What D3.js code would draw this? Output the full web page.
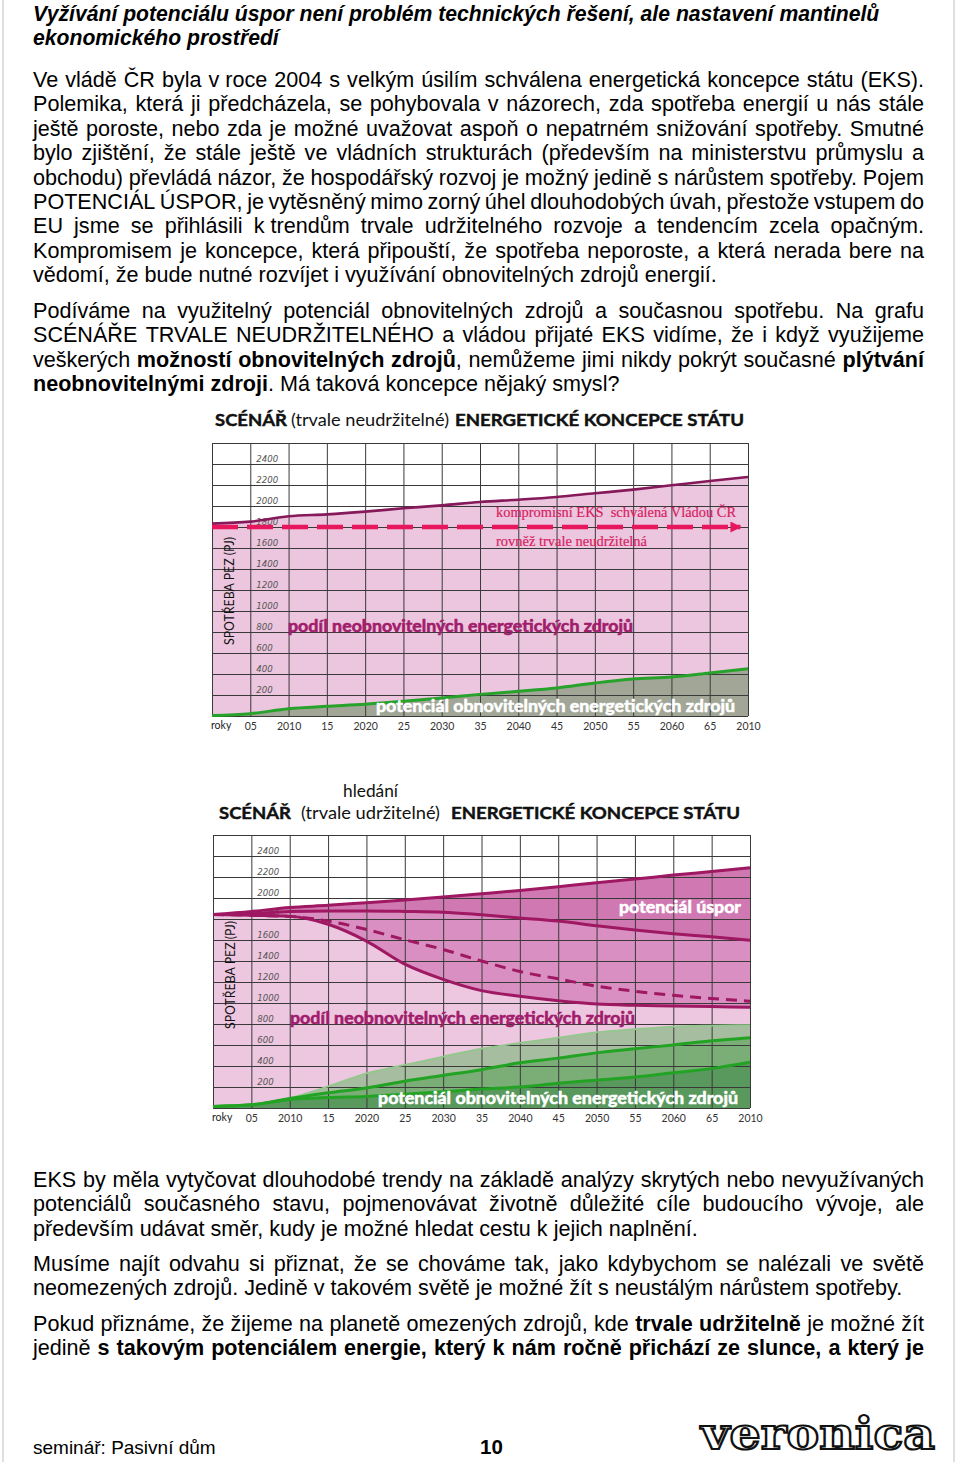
<!DOCTYPE html>
<html><head><meta charset="utf-8">
<script src="https://cdn.jsdelivr.net/npm/d3@7"></script>
<style>
html,body{margin:0;padding:0;background:#fff;}
svg{display:block;}
</style></head><body>
<svg id="page" width="960" height="1462"></svg>
<script>
// ================= DATA =================
const years = [2000,2005,2010,2015,2020,2025,2030,2035,2040,2045,2050,2055,2060,2065,2070];
const yearTickYears = [2005,2010,2015,2020,2025,2030,2035,2040,2045,2050,2055,2060,2065,2070];
const yearTickLabels = ["05","2010","15","2020","25","2030","35","2040","45","2050","55","2060","65","2010"];
const yTickValues = [200,400,600,800,1000,1200,1400,1600,1800,2000,2200,2400];
const yGridValues = [0,200,400,600,800,1000,1200,1400,1600,1800,2000,2200,2400,2600];

// chart 1 – unsustainable scenario
const c1Consumption = [1832,1851,1902,1920,1946,1978,2006,2038,2060,2086,2121,2156,2197,2238,2276];
const c1Renewable   = [5,22,70,92,111,140,171,206,235,267,314,352,371,410,451];
const c1EksYears    = [2000,2069];
const c1EksValues   = [1800,1800];

// chart 2 – sustainable scenario
const c2Consumption = [1843,1872,1910,1930,1955,1980,2009,2040,2072,2108,2145,2180,2218,2252,2288];
const c2Moderate    = [1843,1850,1872,1876,1876,1872,1865,1840,1810,1780,1735,1695,1660,1630,1598];
const c2Dashed      = [1843,1835,1825,1780,1700,1603,1510,1400,1300,1230,1160,1112,1073,1043,1017];
const c2Low         = [1843,1835,1825,1750,1590,1370,1225,1118,1065,1022,990,978,972,966,960];
const c2RenewOuter  = [15,30,95,205,330,410,490,565,620,670,720,750,775,785,790];
const c2RenewUpper  = [15,30,90,145,190,255,310,365,430,475,525,565,600,640,670];
const c2RenewLower  = [15,30,80,100,110,130,155,180,200,235,265,295,335,375,435];

// page text
const headingLines = [
  "Vyžívání potenciálu úspor není problém technických řešení, ale nastavení mantinelů",
  "ekonomického prostředí"
];
const para1 = [
  "Ve vládě ČR byla v\u00a0roce 2004 s velkým úsilím schválena energetická koncepce státu (EKS).",
  "Polemika, která ji předcházela, se pohybovala v názorech, zda spotřeba energií u nás stále",
  "ještě poroste, nebo zda je možné uvažovat aspoň o nepatrném snižování spotřeby. Smutné",
  "bylo zjištění, že stále ještě ve vládních strukturách (především na ministerstvu průmyslu a",
  "obchodu) převládá názor, že hospodářský rozvoj je možný jedině s nárůstem spotřeby. Pojem",
  "POTENCIÁL ÚSPOR, je vytěsněný mimo zorný úhel dlouhodobých úvah, přestože vstupem do",
  "EU jsme se přihlásili k\u00a0trendům trvale udržitelného rozvoje a tendencím zcela opačným.",
  "Kompromisem je koncepce, která připouští, že spotřeba neporoste, a která nerada bere na",
  "vědomí, že bude nutné rozvíjet i využívání obnovitelných zdrojů energií."
];
const para2 = [
  "Podíváme na využitelný potenciál obnovitelných zdrojů a současnou spotřebu. Na grafu",
  "SCÉNÁŘE TRVALE NEUDRŽITELNÉHO a vládou přijaté EKS vidíme, že i když využijeme",
  "veškerých **možností obnovitelných zdrojů**, nemůžeme jimi nikdy pokrýt současné **plýtvání**",
  "**neobnovitelnými zdroji**. Má taková koncepce nějaký smysl?"
];
const para3 = [
  "EKS by měla vytyčovat dlouhodobé trendy na základě analýzy skrytých nebo nevyužívaných",
  "potenciálů současného stavu, pojmenovávat životně důležité cíle budoucího vývoje, ale",
  "především udávat směr, kudy je možné hledat cestu k jejich naplnění."
];
const para4 = [
  "Musíme najít odvahu si přiznat, že se chováme tak, jako kdybychom se nalézali ve světě",
  "neomezených zdrojů. Jedině v takovém světě je možné žít s neustálým nárůstem spotřeby."
];
const para5 = [
  "Pokud přiznáme, že žijeme na planetě omezených zdrojů, kde **trvale udržitelně** je možné žít",
  "jedině **s takovým potenciálem energie, který k nám ročně přichází ze slunce, a který je**"
];

// ================= PAGE TEXT =================
const svg = d3.select("#page");
const BODY = "'Liberation Sans', Arial, sans-serif";

svg.append("line").attr("x1",3).attr("x2",3).attr("y1",0).attr("y2",1462).attr("stroke","#d4d4d4").attr("stroke-width",1.5);
svg.append("line").attr("x1",954).attr("x2",954).attr("y1",0).attr("y2",1462).attr("stroke","#d4d4d4").attr("stroke-width",1.5);

function parseLine(str){
  const words=[]; let cur=[]; let bold=false; let buf='';
  const flush=()=>{ if(buf){cur.push({t:buf,b:bold}); buf='';} };
  for(let i=0;i<str.length;i++){
    if(str[i]==='*'&&str[i+1]==='*'){flush(); bold=!bold; i++; continue;}
    if(str[i]===' '){flush(); if(cur.length){words.push(cur); cur=[];} continue;}
    buf+=str[i];
  }
  flush(); if(cur.length) words.push(cur);
  return words;
}
function wordNodes(str, fs, base, y){
  return parseLine(str).map(w=>{
    const t = svg.append("text").attr("y",y).attr("font-family",BODY).attr("font-size",fs)
      .attr("font-style",base.italic?"italic":"normal").attr("fill","#000")
      .style("white-space","pre");
    w.forEach(s=>t.append("tspan").attr("font-weight",(s.b||base.bold)?"bold":"normal").text(s.t));
    return {t, w:t.node().getComputedTextLength()};
  });
}
function naturalWidth(str, fs, base){
  const n = wordNodes(str, fs, base, -100);
  const w = d3.sum(n,d=>d.w) + (n.length-1)*fs*0.278;
  n.forEach(d=>d.t.remove());
  return w;
}
function layoutLine(str, x, y, width, justify, fs, base){
  const n = wordNodes(str, fs, base, y);
  const total = d3.sum(n,d=>d.w);
  let gap = fs*0.278;
  if(justify && n.length>1) gap = (width-total)/(n.length-1);
  let cx = x;
  n.forEach(d=>{ d.t.attr("x",cx); cx += d.w + gap; });
}
const plain = {bold:false, italic:false};
const fsA = 100*851/naturalWidth(para4[1],100,plain);
const fsB = 100*679/naturalWidth(para3[2],100,plain);
const FS = (fsA+fsB)/2;
const headBase = {bold:true, italic:true};
const FSH = 100*847/naturalWidth(headingLines[0],100,headBase);

const LEFT = 33, WIDTH = 891, STEP = 24.4;
const blocks = [
  {lines:headingLines, y0:21, base:headBase, fs:FSH, justify:false, justifyLast:false},
  {lines:para1, y0:87, base:plain, fs:FS, justify:true, justifyLast:false},
  {lines:para2, y0:318, base:plain, fs:FS, justify:true, justifyLast:false},
  {lines:para3, y0:1187, base:plain, fs:FS, justify:true, justifyLast:false},
  {lines:para4, y0:1271, base:plain, fs:FS, justify:true, justifyLast:false},
  {lines:para5, y0:1331, base:plain, fs:FS, justify:true, justifyLast:true}
];
blocks.forEach(b=>{
  b.lines.forEach((l,i)=>{
    const last = i===b.lines.length-1;
    layoutLine(l, LEFT, b.y0+i*STEP, WIDTH, b.justify && (!last || b.justifyLast), b.fs, b.base);
  });
});

// footer
svg.append("text").attr("x",33).attr("y",1454).attr("font-family",BODY).attr("font-size",19).attr("fill","#000").text("seminář: Pasivní dům");
svg.append("text").attr("x",480).attr("y",1454).attr("font-family",BODY).attr("font-size",20.5).attr("font-weight","bold").attr("fill","#000").text("10");
svg.append("text").attr("x",701).attr("y",1449).attr("font-family","'DejaVu Serif', serif").attr("font-size",45).attr("font-weight","bold")
  .attr("fill","#fff").attr("stroke","#111").attr("stroke-width",2.2).attr("textLength",234).attr("lengthAdjust","spacingAndGlyphs").text("veronica");

// ================= CHARTS =================
const TF = "Lato, 'Open Sans', sans-serif";
const defs = svg.append("defs");
defs.append("marker").attr("id","arrow").attr("viewBox","0 0 10 10").attr("refX",9).attr("refY",5)
  .attr("markerWidth",13).attr("markerHeight",11).attr("markerUnits","userSpaceOnUse").attr("orient","auto")
  .append("path").attr("d","M0,0L10,5L0,10Z").attr("fill","#e8175d");

function fitText(g, str, x, y, len, size, weight, fill, family, thick){
  const t = g.append("text").attr("x",x).attr("y",y).attr("font-family",family||TF).attr("font-size",size)
    .attr("font-weight",weight||"normal").attr("fill",fill||"#000")
    .attr("textLength",len).attr("lengthAdjust","spacingAndGlyphs").style("white-space","pre").text(str);
  if(thick) t.attr("stroke",fill).attr("stroke-width",thick).attr("stroke-linejoin","round");
  return t;
}

function frame(L,R,T,B){
  const x = d3.scaleLinear().domain([2000,2070]).range([L,R]);
  const y = d3.scaleLinear().domain([0,2600]).range([B,T]);
  return {x,y};
}
function drawGrid(g,x,y){
  const [L,R]=x.range(), [B,T]=y.range();
  g.append("g").attr("transform",`translate(${L},0)`)
    .call(d3.axisLeft(y).tickValues(yGridValues).tickSize(-(R-L)).tickFormat(""))
    .call(a=>a.select(".domain").remove())
    .selectAll("line").attr("stroke","#3a3a3a").attr("stroke-width",1);
  g.append("g").attr("transform",`translate(0,${B})`)
    .call(d3.axisBottom(x).tickValues(years).tickSize(-(B-T)).tickFormat(""))
    .call(a=>a.select(".domain").remove())
    .selectAll("line").attr("stroke","#3a3a3a").attr("stroke-width",1);
}
function drawAxesText(g,x,y,title,titleCy){
  const [L,R]=x.range(), [B,T]=y.range();
  const ya = g.append("g").attr("transform",`translate(${x(2005)+6},0)`)
    .call(d3.axisRight(y).tickValues(yTickValues).tickSize(0).tickPadding(0).tickFormat(d=>d));
  ya.select(".domain").remove();
  ya.selectAll("text").attr("dy","-0.3em").attr("font-family","'DejaVu Sans', sans-serif").attr("font-size",8.6)
    .attr("font-style","italic").attr("fill","#555");
  const xa = g.append("g").attr("transform",`translate(0,${B})`)
    .call(d3.axisBottom(x).tickValues(yearTickYears).tickSize(0).tickPadding(7).tickFormat((d,i)=>yearTickLabels[i]));
  xa.select(".domain").remove();
  xa.selectAll("text").attr("font-family",TF).attr("font-size",10.5).attr("fill","#333");
  g.append("text").attr("x",L-1).attr("y",B+13).attr("font-family",TF).attr("font-size",10.5).attr("fill","#222").text("roky");
  g.append("text").attr("transform",`translate(${L+22},${titleCy}) rotate(-90)`).attr("text-anchor","middle")
    .attr("font-family",TF).attr("font-size",13.5).attr("fill","#111")
    .attr("textLength",108).attr("lengthAdjust","spacingAndGlyphs").text(title);
}

// ---------- chart 1 ----------
{
  const g = svg.append("g");
  const {x,y} = frame(212,748,443,716);
  const pts = v => years.map((yr,i)=>[yr,v[i]]);
  const area = d3.area().x(d=>x(d[0])).y0(y(0)).y1(d=>y(d[1])).curve(d3.curveMonotoneX);
  const line = d3.line().x(d=>x(d[0])).y(d=>y(d[1])).curve(d3.curveMonotoneX);

  g.append("path").attr("d",area(pts(c1Consumption))).attr("fill","#ecc5de");
  g.append("path").attr("d",area(pts(c1Renewable))).attr("fill","#a1a697");
  drawGrid(g,x,y);
  drawAxesText(g,x,y,"SPOTŘEBA PEZ (PJ)",591);

  g.append("path").attr("d",line(pts(c1Consumption))).attr("fill","none").attr("stroke","#85195a").attr("stroke-width",2.6);
  g.append("path").attr("d",line(c1EksYears.map((yr,i)=>[yr,c1EksValues[i]]))).attr("fill","none")
    .attr("stroke","#e8175d").attr("stroke-width",4.5).attr("stroke-dasharray","26 9").attr("marker-end","url(#arrow)");
  g.append("path").attr("d",line(pts(c1Renewable))).attr("fill","none").attr("stroke","#27a22a").attr("stroke-width",3);

  fitText(g,"SCÉNÁŘ",215,426,72,17.5,"bold","#111",null,0.45);
  fitText(g,"(trvale neudržitelné)",291,426,158,17,"normal","#111");
  fitText(g,"ENERGETICKÉ KONCEPCE STÁTU",455,426,289,17.5,"bold","#111",null,0.45);

  fitText(g,"kompromisní EKS  schválená Vládou ČR",496,517,240,15,"normal","#d81e63","'Liberation Serif', serif",0.2);
  fitText(g,"rovněž trvale neudržitelná",496,546,151,15,"normal","#d81e63","'Liberation Serif', serif",0.2);
  fitText(g,"podíl neobnovitelných energetických zdrojů",288,632,345,17,"bold","#a11d6c",null,0.6);
  fitText(g,"potenciál obnovitelných energetických zdrojů",376,712,359,17,"bold","#ffffff",null,0.6);
}

// ---------- chart 2 ----------
{
  const g = svg.append("g");
  const {x,y} = frame(213,750,835,1108);
  const pts = v => years.map((yr,i)=>[yr,v[i]]);
  const area = d3.area().x(d=>x(d[0])).y0(y(0)).y1(d=>y(d[1])).curve(d3.curveMonotoneX);
  const band = (lo,hi) => d3.area().x((d,i)=>x(years[i])).y0((d,i)=>y(lo[i])).y1((d,i)=>y(hi[i])).curve(d3.curveMonotoneX)(years);
  const line = d3.line().x(d=>x(d[0])).y(d=>y(d[1])).curve(d3.curveMonotoneX);

  g.append("path").attr("d",area(pts(c2Consumption))).attr("fill","#edc6e0");
  g.append("path").attr("d",band(c2Low,c2Consumption)).attr("fill","#d98fc2");
  g.append("path").attr("d",band(c2Moderate,c2Consumption)).attr("fill","#d078b1");
  g.append("path").attr("d",area(pts(c2RenewOuter))).attr("fill","#a7bd9f");
  g.append("path").attr("d",area(pts(c2RenewUpper))).attr("fill","#7bad77");
  g.append("path").attr("d",area(pts(c2RenewLower))).attr("fill","#5a995d");
  drawGrid(g,x,y);
  drawAxesText(g,x,y,"SPOTŘEBA PEZ (PJ)",975);

  const mag = "#9e1862";
  g.append("path").attr("d",line(pts(c2Consumption))).attr("fill","none").attr("stroke",mag).attr("stroke-width",3);
  g.append("path").attr("d",line(pts(c2Moderate))).attr("fill","none").attr("stroke",mag).attr("stroke-width",3);
  g.append("path").attr("d",line(pts(c2Dashed))).attr("fill","none").attr("stroke",mag).attr("stroke-width",3).attr("stroke-dasharray","11 7");
  g.append("path").attr("d",line(pts(c2Low))).attr("fill","none").attr("stroke",mag).attr("stroke-width",3);
  g.append("path").attr("d",line(pts(c2RenewOuter))).attr("fill","none").attr("stroke","#93c88c").attr("stroke-width",1.8);
  g.append("path").attr("d",line(pts(c2RenewUpper))).attr("fill","none").attr("stroke","#22a324").attr("stroke-width",3);
  g.append("path").attr("d",line(pts(c2RenewLower))).attr("fill","none").attr("stroke","#22a324").attr("stroke-width",3);

  fitText(g,"hledání",343,797,55,16.5,"normal","#111");
  fitText(g,"SCÉNÁŘ",219,819,72,17.5,"bold","#111",null,0.45);
  fitText(g,"(trvale udržitelné)",301,819,139,17,"normal","#111");
  fitText(g,"ENERGETICKÉ KONCEPCE STÁTU",451,819,289,17.5,"bold","#111",null,0.45);

  fitText(g,"potenciál úspor",619,913,122,17,"bold","#ffffff",null,0.6);
  fitText(g,"podíl neobnovitelných energetických zdrojů",290,1024,345,17,"bold","#a11d6c",null,0.6);
  fitText(g,"potenciál obnovitelných energetických zdrojů",378,1104,360,17,"bold","#ffffff",null,0.6);
}
</script>
</body></html>
